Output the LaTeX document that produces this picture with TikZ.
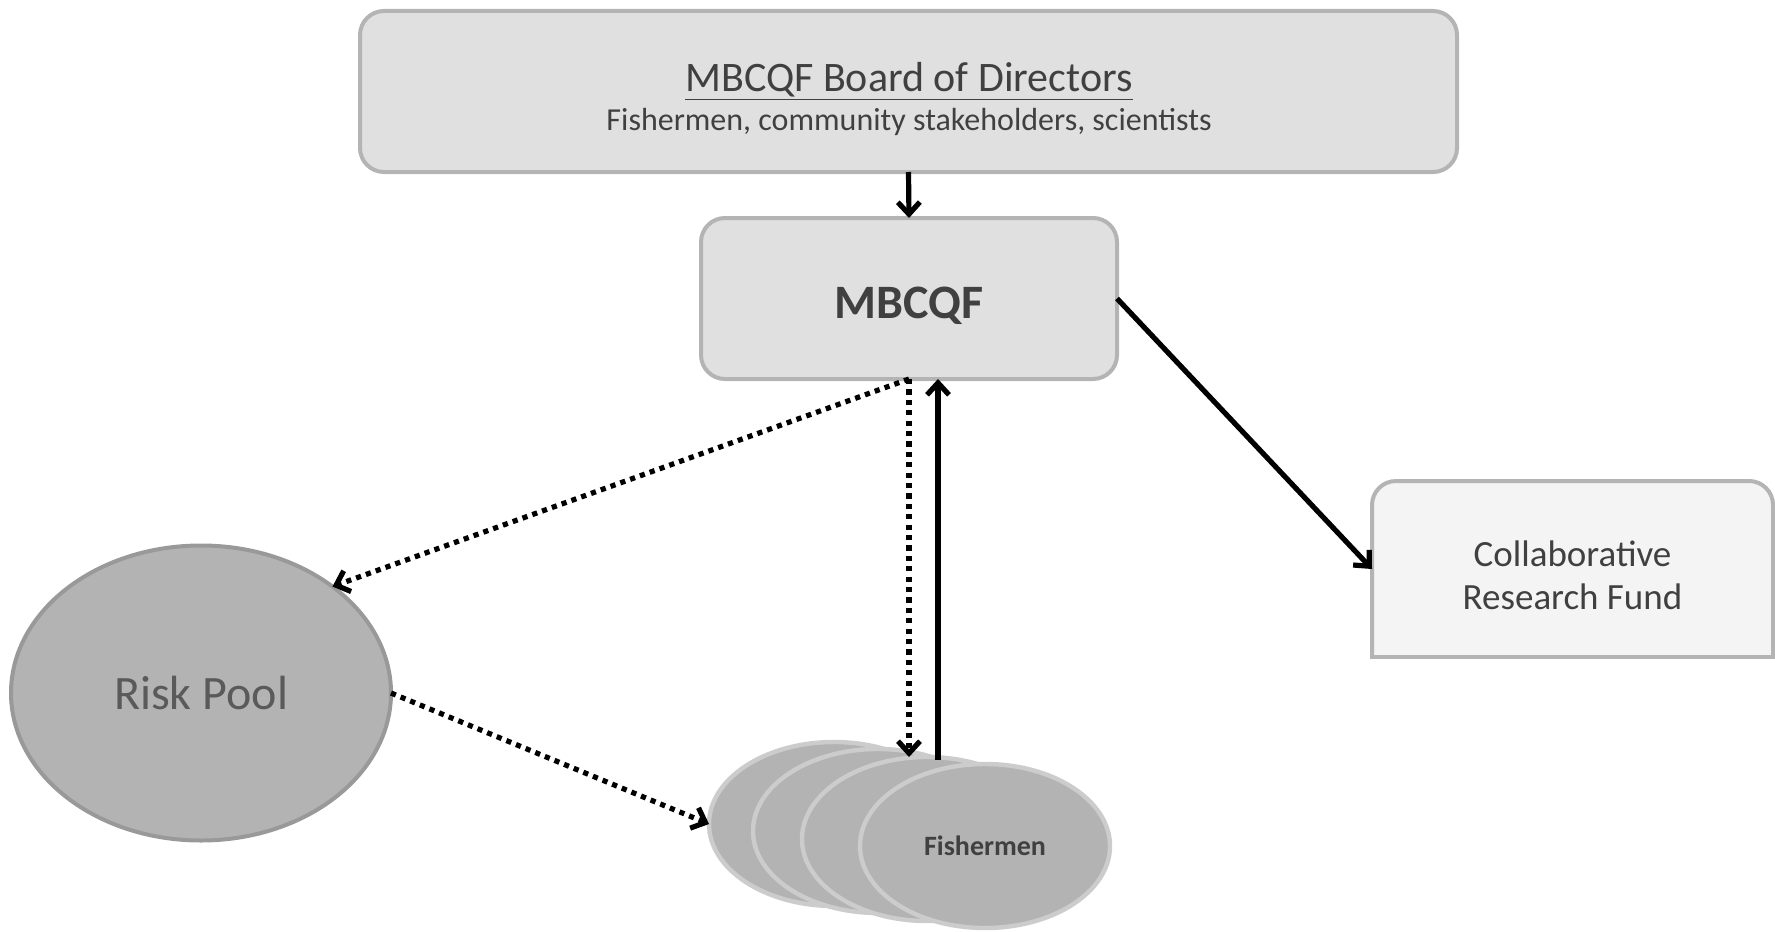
\documentclass[tikz,border=0pt]{standalone}
\usepackage{fontspec}
\setmainfont{Carlito}
\usetikzlibrary{arrows.meta,calc,shapes.geometric}
\definecolor{boxfill}{HTML}{E0E0E0}
\definecolor{boxline}{HTML}{B4B4B4}
\definecolor{fundfill}{HTML}{F4F4F4}
\definecolor{poolfill}{HTML}{B3B3B3}
\definecolor{poolline}{HTML}{999999}
\definecolor{fishline}{HTML}{CCCCCC}
\definecolor{txt}{HTML}{404040}
\definecolor{pooltxt}{HTML}{5A5A5A}
\begin{document}
\begin{tikzpicture}[x=0.5pt,y=-0.5pt,
% common options for the boxes:
block/.style = {draw=boxline, fill=boxfill, line width=2pt, rounded corners=12pt,
            inner sep=0, outer sep=0, text=txt},
% common options for the ellipses:
ball/.style = {ellipse, draw=fishline, fill=poolfill, line width=2.2pt, inner sep=0,
            outer sep=0, minimum width=125pt, minimum height=82pt, text=txt},
% common options for the arrows:
link/.style = {line width=2.6pt, -{Straight Barb[length=6pt,width=11pt]}},
dotlink/.style = {link, dash pattern=on 2.6pt off 2.6pt}]
\useasboundingbox (0,0) rectangle (1775,931);
% board
\node[block, minimum width=548.5pt, minimum height=80.5pt] (board) at (908.5,91.5) {};
\node[anchor=base, text=txt, font=\fontsize{21}{25}\selectfont] (boardhead) at (909,91) {\underline{MBCQF Board of Directors}};
\node[anchor=base, text=txt, font=\fontsize{16}{19}\selectfont] (boardsub) at (909,130) {Fishermen, community stakeholders, scientists};
% foundation
\node[block, minimum width=208pt, minimum height=80.5pt, text height=20pt, text depth=0pt,
      font=\bfseries\fontsize{24}{29}\selectfont] (mbcqf) at (909,298.5) {MBCQF};
% research fund, rounded on top only
\node[minimum width=200.5pt, minimum height=88pt, inner sep=0, outer sep=0] (crf) at (1572.5,569) {};
\fill[fundfill, rounded corners=12pt] (crf.south west) -- (crf.north west) -- (crf.north east) -- (crf.south east);
\draw[boxline, line width=2pt, rounded corners=12pt] (crf.south west) -- (crf.north west) -- (crf.north east) -- (crf.south east);
\draw[boxline, line width=2pt, line cap=rect] (crf.south west) -- (crf.south east);
\node[align=center, text=txt, font=\fontsize{18.5}{21.5}\selectfont] (crftext) at (1572.5,575) {Collaborative\\Research Fund};
% risk pool
\node[ellipse, draw=poolline, fill=poolfill, line width=2pt, inner sep=0, outer sep=0,
      minimum width=190pt, minimum height=147.5pt, text=pooltxt,
      font=\fontsize{24}{29}\selectfont] (pool) at (201,693) {Risk Pool};
% fishermen
\node[ball] (fish1) at (834,824) {};
\node[ball] (fish2) at (878,831) {};
\node[ball] (fish3) at (927,839) {};
\node[ball, font=\bfseries\fontsize{14}{17}\selectfont] (fish4) at (985,846) {Fishermen};
% arrows
\draw[link] (board.south) -- (mbcqf.north);
\draw[link] (mbcqf.east) -- (crf.west);
\draw[dotlink] (mbcqf.south) -- (pool.39);
\draw[dotlink] (pool.east) -- (fish1.west);
\draw[dotlink] (mbcqf.south) -- (mbcqf.south |- fish3.north);
\coordinate (fishtop) at ($(fish3.north)+(11,3)$);
\draw[link] (fishtop) -- (fishtop |- mbcqf.south);
\end{tikzpicture}
\end{document}
